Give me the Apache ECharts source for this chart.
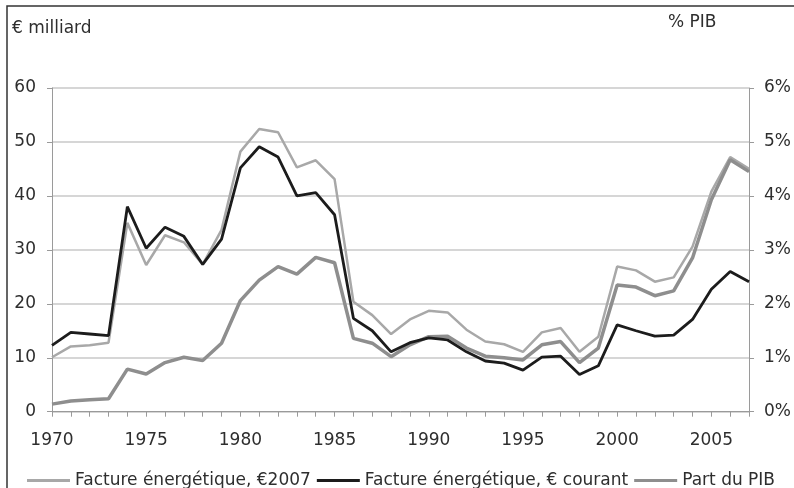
<!DOCTYPE html>
<html>
<head>
<meta charset="utf-8">
<script src="https://cdn.jsdelivr.net/npm/echarts@6/dist/echarts.min.js"></script>
<style>
html,body{margin:0;padding:0;background:#fff;}
#chart{width:794px;height:488px;}
</style>
</head>
<body>
<div id="chart"></div>
<script>
var years = [];
for (var y = 1970; y <= 2007; y++) years.push(String(y));

var facture2007 = [10.1,12.1,12.3,12.8,35.0,27.2,32.7,31.4,27.3,33.7,48.2,52.4,51.8,45.3,46.6,43.1,20.4,17.9,14.4,17.1,18.7,18.4,15.2,13.0,12.5,11.1,14.7,15.5,11.1,13.9,26.9,26.2,24.1,24.9,30.6,40.8,47.2,45.0];
var factureCourant = [12.3,14.7,14.4,14.1,38.0,30.3,34.2,32.5,27.3,32.0,45.2,49.1,47.2,40.0,40.6,36.5,17.3,15.0,11.1,12.8,13.7,13.3,11.1,9.4,9.0,7.7,10.1,10.3,6.9,8.5,16.1,15.0,14.0,14.2,17.1,22.7,26.0,24.1];
var partPIB = [0.14,0.20,0.22,0.24,0.79,0.70,0.91,1.01,0.95,1.27,2.06,2.44,2.69,2.55,2.86,2.76,1.36,1.27,1.02,1.24,1.39,1.40,1.18,1.03,1.00,0.96,1.24,1.30,0.91,1.18,2.35,2.31,2.15,2.24,2.85,3.93,4.67,4.45];

var leftTicks = [0,10,20,30,40,50,60];
var rightTicks = [0,1,2,3,4,5,6];

var font = 'DejaVu Sans';
var txt = '#2e2e2e';
var axisCol = '#9a9a9a';

var chart = echarts.init(document.getElementById('chart'), null, {renderer:'canvas'});
chart.setOption({
  backgroundColor:'#ffffff',
  animation:false,
  textStyle:{fontFamily:font},
  grid:{left:52, right:44, top:88, bottom:76.3, containLabel:false},
  graphic:[
    {type:'rect', shape:{x:7, y:6, width:820, height:520}, style:{fill:'none', stroke:'#333', lineWidth:1.5}},
    {type:'text', left:12, top:20, style:{text:'€ milliard', font:'17px "DejaVu Sans"', fill:txt}},
    {type:'text', left:668, top:14, style:{text:'% PIB', font:'17px "DejaVu Sans"', fill:txt}}
  ],
  legend:{
    left:22, top:467, itemGap:6, itemWidth:43, itemHeight:3, icon:'rect',
    textStyle:{fontFamily:font, fontSize:17, color:txt},
    data:['Facture énergétique, €2007','Facture énergétique, € courant','Part du PIB']
  },
  xAxis:{
    type:'category', data:years, boundaryGap:false,
    axisLine:{lineStyle:{color:axisCol, width:1}},
    axisTick:{show:true, interval:0, length:5, lineStyle:{color:axisCol}},
    axisLabel:{interval:4, margin:20, fontSize:17, color:txt, fontFamily:font},
    splitLine:{show:false}
  },
  yAxis:[
    {type:'value', min:leftTicks[0], max:leftTicks[leftTicks.length-1], interval:10,
     axisLine:{show:true, lineStyle:{color:axisCol}},
     axisTick:{show:true, length:5, lineStyle:{color:axisCol}},
     axisLabel:{margin:16, fontSize:17, color:txt, fontFamily:font},
     splitLine:{show:true, lineStyle:{color:'#c8c8c8', width:1.5}}},
    {type:'value', min:rightTicks[0], max:rightTicks[rightTicks.length-1], interval:1, position:'right',
     axisLine:{show:true, lineStyle:{color:axisCol}},
     axisTick:{show:true, length:5, lineStyle:{color:axisCol}},
     axisLabel:{margin:15, fontSize:17, color:txt, fontFamily:font, formatter:'{value}%'},
     splitLine:{show:false}}
  ],
  series:[
    {name:'Facture énergétique, €2007', type:'line', data:facture2007, yAxisIndex:0,
     symbol:'none', lineStyle:{color:'#a8a8a8', width:2.5}, itemStyle:{color:'#a8a8a8'}, z:2},
    {name:'Facture énergétique, € courant', type:'line', data:factureCourant, yAxisIndex:0,
     symbol:'none', lineStyle:{color:'#1c1c1c', width:2.8}, itemStyle:{color:'#1c1c1c'}, z:3},
    {name:'Part du PIB', type:'line', data:partPIB, yAxisIndex:1,
     symbol:'none', lineStyle:{color:'#8e8e8e', width:3.5}, itemStyle:{color:'#8e8e8e'}, z:2}
  ]
});
</script>
</body>
</html>
